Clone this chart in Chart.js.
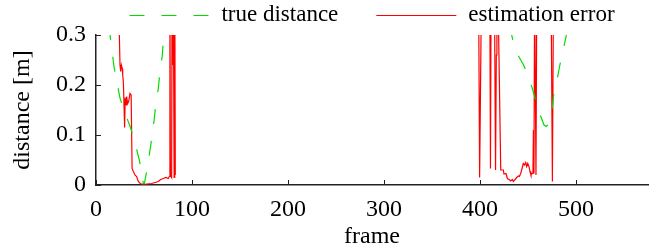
<!DOCTYPE html>
<html>
<head>
<meta charset="utf-8">
<script src="https://cdn.jsdelivr.net/npm/chart.js@4.4.0/dist/chart.umd.min.js"></script>
<style>
    html, body { margin: 0; padding: 0; background: #fff; }
    #wrap { width: 660px; height: 251px; }
</style>
</head>
<body>
<div id="wrap"><canvas id="chart" width="660" height="251"></canvas></div>
<script>
// true distance [m] per frame, null breaks the line between the two passes
var trueFrames = [13.5, 14.6, 18.75, 21.6, 25, 30.2, 36.1, 40.6, 45.1, 48.2, 49.3, 50.4, 53.4, 55.5, 58, 60.4, 62.2, 64.9, 66.7, 69.1, 70.1, 72,
    250,
    432, 433, 436.5, 445.1, 451.4, 456.3, 460.7, 466.7, 469, 471.1, 474.7, 476.4, 479.9, 483.3, 486.8, 490];
var trueDist = [0.32, 0.30, 0.237, 0.207, 0.174, 0.144, 0.114, 0.084, 0.05, 0.02, 0.003, 0.003, 0.033, 0.06, 0.093, 0.127, 0.16, 0.193, 0.227, 0.26, 0.29, 0.33,
    null,
    0.32, 0.30, 0.27, 0.241, 0.213, 0.181, 0.15, 0.12, 0.117, 0.121, 0.141, 0.177, 0.207, 0.241, 0.271, 0.30];

// estimation error [m] per frame (values above 0.3 run off the top)
var errFrames = [24.2, 25, 25.7, 26.4, 27.4, 27.8, 28.5, 29.8, 30.4, 31.3, 31.9, 33, 34, 35.4, 36.6, 37.6, 38.9, 40.6, 42.3, 44.1, 46.5, 48.5, 49.3, 52.8, 58, 61.5, 64.9, 67.4, 70.1, 72.9, 75.3, 76.4, 77.0, 77.5, 78.8, 79.3, 80.0, 80.4, 81.4, 82.0, 82.6,
    250,
    398.5, 399.6, 401.6, 410.2, 410.9, 411.6, 415.0, 416.2, 417.0, 417.6, 418.6, 421.6, 424.3, 425, 427.1, 428.5, 430.5, 432, 433.7, 434.7, 436.5, 438.2, 439.9, 441, 442.4, 443.8, 445.1, 446.2, 447.6, 448.6, 449.7, 451, 452.1, 453.1, 454.2, 455.2, 455.6, 456.2, 456.9, 458.3, 459.2, 474.0, 475.4, 476.6];
var errValues = [0.31, 0.24, 0.227, 0.24, 0.233, 0.22, 0.207, 0.115, 0.175, 0.16, 0.177, 0.163, 0.167, 0.183, 0.18, 0.033, 0.027, 0.02, 0.017, 0.007, 0.002, 0.002, 0.001, 0.002, 0.003, 0.005, 0.007, 0.011, 0.013, 0.015, 0.013, 0.017, 0.45, 0.02, 0.015, 0.45, 0.24, 0.45, 0.015, 0.45, 0.02,
    null,
    0.4, 0.015, 0.4, 0.4, 0.033, 0.4, 0.4, 0.03, 0.26, 0.4, 0.4, 0.03, 0.03, 0.022, 0.023, 0.013, 0.011, 0.008, 0.011, 0.007, 0.011, 0.015, 0.018, 0.017, 0.023, 0.033, 0.043, 0.04, 0.045, 0.037, 0.043, 0.037, 0.027, 0.02, 0.023, 0.03, 0.11, 0.023, 0.4, 0.02, 0.4, 0.4, 0.007, 0.4];

var xTicks = [0, 100, 200, 300, 400, 500];
var yTicks = [0, 0.1, 0.2, 0.3];
var yTickLabels = ['0', '0.1', '0.2', '0.3'];

var AXIS_COLOR = '#222';
var FONT = "'Liberation Serif', 'Times New Roman', serif";

function toPoints(xs, ys) {
    return xs.map(function (x, i) { return { x: x, y: ys[i] }; });
}

// small tick marks pointing into the plot, like the original
var innerTicks = {
    id: 'innerTicks',
    afterDatasetsDraw: function (chart) {
        var ctx = chart.ctx, a = chart.chartArea;
        var xs = chart.scales.x, ys = chart.scales.y;
        ctx.save();
        ctx.strokeStyle = AXIS_COLOR;
        ctx.lineWidth = 1;
        ctx.beginPath();
        xs.ticks.forEach(function (t) {
            var px = Math.round(xs.getPixelForValue(t.value)) + 0.5;
            ctx.moveTo(px, a.bottom);
            ctx.lineTo(px, a.bottom - 5);
        });
        ys.ticks.forEach(function (t) {
            var py = Math.round(ys.getPixelForValue(t.value)) + 0.5;
            ctx.moveTo(a.left, py);
            ctx.lineTo(a.left + 5, py);
        });
        ctx.stroke();
        ctx.restore();
    }
};

// legend in one row above the plot, centred on the plot area
var lineLegend = {
    id: 'lineLegend',
    afterDraw: function (chart) {
        var ctx = chart.ctx, a = chart.chartArea;
        var sets = chart.data.datasets;
        var lineLen = 80, textGap = 12, itemGap = 38, y = 15;
        ctx.save();
        ctx.font = '23px ' + FONT;
        var widths = sets.map(function (d) { return ctx.measureText(d.label).width; });
        var total = 0;
        widths.forEach(function (w, i) { total += lineLen + textGap + w + (i > 0 ? itemGap : 0); });
        var x = (a.left + a.right) / 2 - total / 2;
        sets.forEach(function (d, i) {
            ctx.strokeStyle = d.borderColor;
            ctx.lineWidth = d.borderWidth;
            ctx.setLineDash(d.borderDash || []);
            ctx.beginPath();
            ctx.moveTo(x, y + 0.5);
            ctx.lineTo(x + lineLen, y + 0.5);
            ctx.stroke();
            ctx.setLineDash([]);
            ctx.fillStyle = '#000';
            ctx.textBaseline = 'middle';
            ctx.textAlign = 'left';
            ctx.fillText(d.label, x + lineLen + textGap, y);
            x += lineLen + textGap + widths[i] + itemGap;
        });
        ctx.restore();
    }
};

var chart = new Chart(document.getElementById('chart'), {
    type: 'line',
    data: {
        datasets: [
            {
                label: 'true distance',
                data: toPoints(trueFrames, trueDist),
                borderColor: '#00dd00',
                borderWidth: 1.2,
                borderDash: [15, 17],
                pointRadius: 0,
                tension: 0
            },
            {
                label: 'estimation error',
                data: toPoints(errFrames, errValues),
                borderColor: '#ff0000',
                borderWidth: 1.2,
                pointRadius: 0,
                tension: 0
            }
        ]
    },
    options: {
        responsive: false,
        animation: false,
        devicePixelRatio: 1,
        layout: { padding: { top: 35, right: 12, left: 0, bottom: 0 } },
        plugins: {
            legend: { display: false },
            tooltip: { enabled: false }
        },
        scales: {
            x: {
                type: 'linear',
                min: 0,
                max: 575,
                afterBuildTicks: function (s) { s.ticks = xTicks.map(function (v) { return { value: v }; }); },
                afterFit: function (s) { s.height = 66; },
                grid: { display: false, drawTicks: false },
                border: { display: true, color: AXIS_COLOR, width: 1.5 },
                ticks: {
                    color: '#000',
                    padding: 10,
                    maxRotation: 0,
                    font: { family: FONT, size: 24, lineHeight: 1.2 }
                },
                title: {
                    display: true,
                    text: 'frame',
                    color: '#000',
                    padding: { top: 0, bottom: 0 },
                    font: { family: FONT, size: 24, lineHeight: 1.2 }
                }
            },
            y: {
                min: 0,
                max: 0.3,
                afterBuildTicks: function (s) { s.ticks = yTicks.map(function (v) { return { value: v }; }); },
                afterFit: function (s) { s.width = 96; },
                grid: { display: false, drawTicks: false },
                border: { display: true, color: AXIS_COLOR, width: 1.5 },
                ticks: {
                    color: '#000',
                    padding: 10,
                    font: { family: FONT, size: 24, lineHeight: 1.2 },
                    callback: function (value, index) { return yTickLabels[index]; }
                },
                title: {
                    display: true,
                    text: 'distance [m]',
                    color: '#000',
                    padding: { top: 8, bottom: 0 },
                    font: { family: FONT, size: 24, lineHeight: 1.2 }
                }
            }
        }
    },
    plugins: [innerTicks, lineLegend]
});
</script>
</body>
</html>
